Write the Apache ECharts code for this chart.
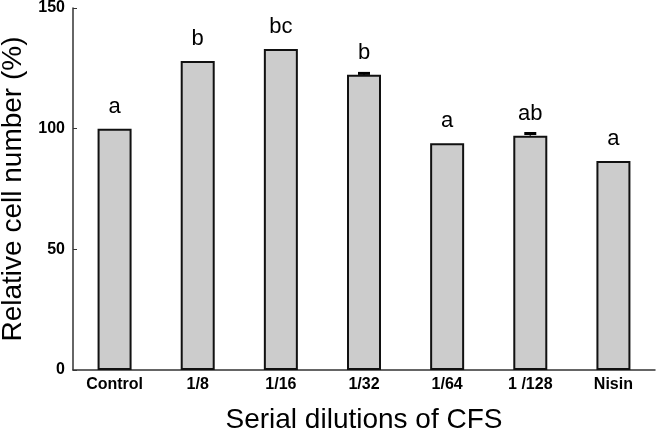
<!DOCTYPE html>
<html>
<head>
<meta charset="utf-8">
<script src="https://cdn.jsdelivr.net/npm/echarts@6/dist/echarts.min.js"></script>
<style>
  html, body { margin: 0; padding: 0; background: #fff; }
  #chart { width: 657px; height: 430px; }
</style>
</head>
<body>
<div id="chart"></div>
<script>
// values
const categories = ['Control', '1/8', '1/16', '1/32', '1/64', '1 /128', 'Nisin']
const cellNumber = [100, 128, 133, 122.3, 94, 97.1, 86.6]
const errors = [0, 0, 0, 0.6, 0, 0.9, 0]
const letters = ['a', 'b', 'bc', 'b', 'a', 'ab', 'a']
const yTicks = [0, 50, 100, 150]

const font = 'Liberation Sans, Arial, sans-serif'
const chart = echarts.init(document.getElementById('chart'))

chart.setOption({
  animation: false,
  grid: { left: 73, right: 2, top: 8, bottom: 60, outerBoundsMode: 'none' },
  xAxis: {
    type: 'category',
    data: categories,
    name: 'Serial dilutions of CFS',
    nameLocation: 'middle',
    nameGap: 36,
    nameTextStyle: { fontFamily: font, fontSize: 28, color: '#000' },
    axisLine: { lineStyle: { color: '#333', width: 1.5 } },
    axisTick: { inside: true, length: 4, lineStyle: { color: '#333' } },
    axisLabel: { fontFamily: font, fontSize: 16, fontWeight: 'bold', color: '#000', margin: 7 }
  },
  yAxis: {
    type: 'value',
    min: yTicks[0],
    max: yTicks[yTicks.length - 1],
    interval: 50,
    name: 'Relative cell number (%)',
    nameLocation: 'middle',
    nameGap: 45,
    nameTextStyle: { fontFamily: font, fontSize: 28, color: '#000' },
    splitLine: { show: false },
    axisLine: { show: true, lineStyle: { color: '#333', width: 1.5 } },
    axisTick: { show: true, inside: true, length: 4, lineStyle: { color: '#333' } },
    axisLabel: { fontFamily: font, fontSize: 16, fontWeight: 'bold', color: '#000', margin: 8 }
  },
  series: [
    {
      type: 'bar',
      data: cellNumber,
      barWidth: 34,
      itemStyle: { color: '#cccccc', borderColor: '#111', borderWidth: 2 },
      label: {
        show: true,
        position: 'top',
        distance: 11,
        fontFamily: font,
        fontSize: 22,
        color: '#000',
        formatter: (p) => letters[p.dataIndex]
      }
    },
    {
      type: 'custom',
      data: cellNumber.map((v, i) => [i, v, errors[i]]),
      z: 5,
      renderItem: (params, api) => {
        const err = api.value(2)
        if (!err) return
        const top = api.coord([api.value(0), api.value(1) + err])
        const base = api.coord([api.value(0), api.value(1)])
        return {
          type: 'group',
          children: [
            { type: 'line', shape: { x1: top[0], y1: top[1], x2: top[0], y2: base[1] }, style: { stroke: '#000', lineWidth: 1.5 } },
            { type: 'line', shape: { x1: top[0] - 6, y1: top[1], x2: top[0] + 6, y2: top[1] }, style: { stroke: '#000', lineWidth: 3 } }
          ]
        }
      }
    }
  ]
})
</script>
</body>
</html>
